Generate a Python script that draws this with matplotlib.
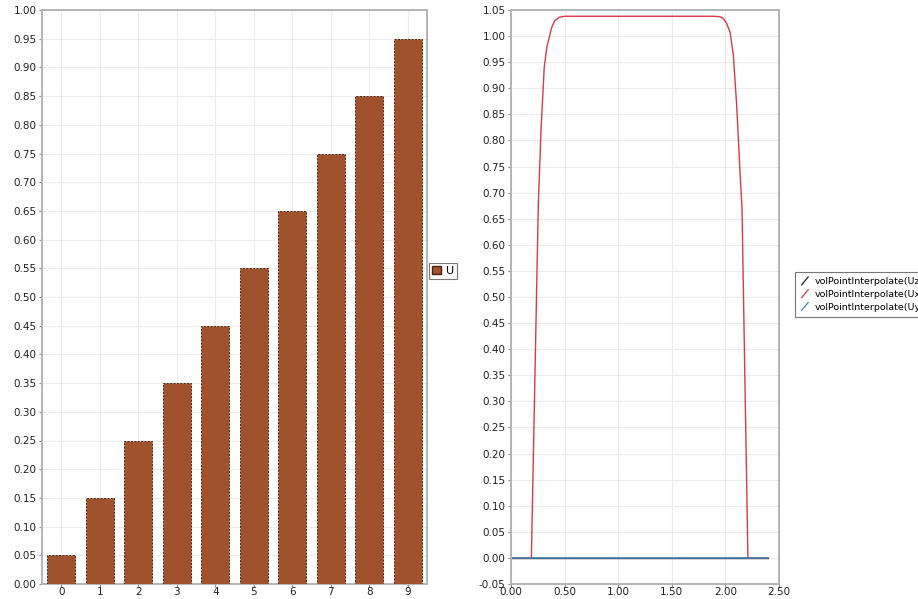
import matplotlib
matplotlib.use("Agg")
import matplotlib.pyplot as plt
from matplotlib.patches import Patch
from matplotlib.lines import Line2D
from matplotlib.legend_handler import HandlerLine2D
from matplotlib.ticker import MultipleLocator, FormatStrFormatter

# ---- data ----
bar_categories = [0, 1, 2, 3, 4, 5, 6, 7, 8, 9]
bar_values = [0.05, 0.15, 0.25, 0.35, 0.45, 0.55, 0.65, 0.75, 0.85, 0.95]

line_x_ux = [0.0, 0.19, 0.255, 0.28, 0.31, 0.335, 0.355, 0.38, 0.41, 0.45, 0.50,
             1.90, 1.95, 1.98, 2.01, 2.043, 2.074, 2.105, 2.136, 2.155, 2.21, 2.40]
line_y_ux = [0.0, 0.0, 0.68, 0.82, 0.94, 0.98, 0.996, 1.017, 1.03, 1.036, 1.038,
             1.038, 1.037, 1.034, 1.025, 1.008, 0.964, 0.868, 0.74, 0.67, 0.0, 0.0]
line_x_flat = [0.0, 2.40]
line_y_uz = [0.0, 0.0]
line_y_uy = [0.0, 0.0]

series_names = ["volPointInterpolate(Uz)", "volPointInterpolate(Ux)", "volPointInterpolate(Uy)"]

# ---- style ----
plt.rcParams['font.family'] = ['DejaVu Sans']
W, H = 918, 599
fig = plt.figure(figsize=(W / 100, H / 100), dpi=100)
fig.patch.set_facecolor('white')

spine_col = '#b4b4b4'
grid_col = '#ececec'
tick_fs = 7.5
AX_TOP, AX_BOT = 10, 584


def style_axes(ax):
    for s in ax.spines.values():
        s.set_color(spine_col)
        s.set_linewidth(1.4)
    ax.tick_params(axis='both', colors='#888888', labelcolor='#222222',
                   labelsize=tick_fs, length=2.5, width=0.8, pad=1.5)
    ax.tick_params(axis='x', pad=0.5, length=2)
    ax.grid(True, color=grid_col, linewidth=0.8)
    ax.set_axisbelow(True)


# ---- bar chart ----
ax1 = fig.add_axes([42 / W, 1 - AX_BOT / H, (427 - 42) / W, (AX_BOT - AX_TOP) / H])
ax1.bar(bar_categories, bar_values, width=0.73, color='#a0522d',
        edgecolor='#4a2410', linewidth=0.7, linestyle=(0, (2, 1.5)), zorder=3)
ax1.set_xlim(-0.5, 9.5)
ax1.set_ylim(0, 1.0)
ax1.set_xticks(bar_categories)
ax1.yaxis.set_major_locator(MultipleLocator(0.05))
ax1.yaxis.set_major_formatter(FormatStrFormatter('%.2f'))
style_axes(ax1)

leg1 = fig.legend(handles=[Patch(facecolor='#a0522d', edgecolor='#4a2410')], labels=['U'],
                  loc='center left', bbox_to_anchor=(429 / W, 1 - 271 / H),
                  fontsize=8, frameon=True, fancybox=False, handlelength=0.8,
                  handleheight=0.8, handletextpad=0.4, borderpad=0.3, borderaxespad=0)
leg1.get_frame().set_edgecolor('#555555')
leg1.get_frame().set_linewidth(0.8)

# ---- line chart ----
ax2 = fig.add_axes([511 / W, 1 - AX_BOT / H, (779 - 511) / W, (AX_BOT - AX_TOP) / H])
l_uz, = ax2.plot(line_x_flat, line_y_uz, color='#222222', linewidth=1.0)
l_ux, = ax2.plot(line_x_ux, line_y_ux, color='#d8394b', linewidth=1.0)
l_uy, = ax2.plot(line_x_flat, line_y_uy, color='#4a7fb5', linewidth=1.2)
ax2.set_xlim(0, 2.5)
ax2.set_ylim(-0.05, 1.05)
ax2.xaxis.set_major_locator(MultipleLocator(0.5))
ax2.xaxis.set_major_formatter(FormatStrFormatter('%.2f'))
ax2.yaxis.set_major_locator(MultipleLocator(0.05))
ax2.yaxis.set_major_formatter(FormatStrFormatter('%.2f'))
style_axes(ax2)


class DiagonalHandler(HandlerLine2D):
    def create_artists(self, legend, orig_handle, xdescent, ydescent,
                       width, height, fontsize, trans):
        ln = Line2D([xdescent + width * 0.15, xdescent + width * 0.85],
                    [ydescent - height * 0.1, ydescent + height * 1.1],
                    color=orig_handle.get_color(), linewidth=0.9)
        ln.set_transform(trans)
        return [ln]


# the legend box runs past the right edge of the canvas
leg2 = fig.legend(handles=[l_uz, l_ux, l_uy], labels=series_names,
                  loc='upper left', bbox_to_anchor=(795 / W, 1 - 272 / H),
                  fontsize=6.8, frameon=True, fancybox=False,
                  handlelength=1.0, handletextpad=0.5, labelspacing=0.4,
                  borderpad=0.55, borderaxespad=0,
                  handler_map={Line2D: DiagonalHandler()})
leg2.get_frame().set_edgecolor('#555555')
leg2.get_frame().set_linewidth(0.8)

fig.savefig('out.png', dpi=100)
